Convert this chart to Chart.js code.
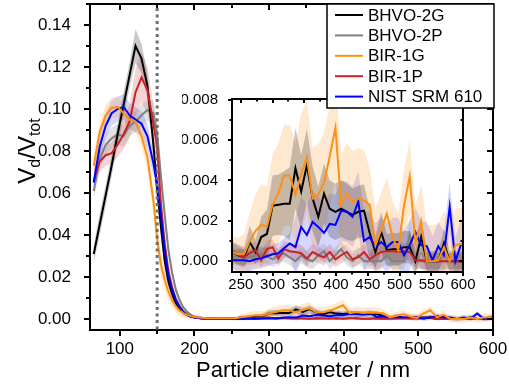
<!DOCTYPE html>
<html>
<head>
<meta charset="utf-8">
<script src="https://cdn.jsdelivr.net/npm/chart.js@4"></script>
<style>
  body { margin: 0; background: #fff; }
  #wrap { position: relative; width: 509px; height: 387px; }
  #wrap canvas { position: absolute; left: 0; top: 0; }
</style>
</head>
<body>
<div id="wrap">
  <canvas id="main" width="509" height="387"></canvas>
  <canvas id="inset" width="509" height="387"></canvas>
</div>
<script>
/* global Chart */

// particle diameters (nm)
const diameters = [65, 73, 81, 89, 97, 105, 113, 121, 129, 137, 145,
  150, 155, 160, 165, 170, 175, 180, 185, 190, 195, 200, 210, 219, 228,
  237, 246, 255, 264, 273, 282, 291, 300, 309, 318, 327, 336, 345, 354, 363,
  372, 381, 390, 399, 408, 417, 426, 435, 444, 453, 462, 471, 480, 489, 498,
  507, 516, 525, 534, 543, 552, 561, 570, 579, 588, 597, 606];

const bhvo2g = [0.031, 0.045, 0.059, 0.073, 0.088, 0.102, 0.116, 0.130, 0.124, 0.111, 0.083,
  0.062, 0.044, 0.028, 0.018, 0.012, 0.0075, 0.005, 0.003, 0.002, 0.0012, 0.0008, 0.0004, 0.0003, 0.0003,
  0.00045, 0.0003, 0.0002, 0.00095, 0.00045, 0.0012, 0.00135, 0.00275, 0.0028, 0.00285, 0.00285, 0.0046, 0.00345, 0.00475, 0.0031,
  0.0022, 0.00335, 0.0026, 0.00245, 0.0026, 0.00245, 0.0023, 0.00245, 0.0025, 0.0014, 0.00045, 0.00145, 0.00055, 0.0006, 0.0006,
  0.0007, 0.0007, 0, 0.0012, 0, 0, 0, 0.0009, 0, 0, 0, 0];
const bhvo2gErr = [0.004, 0.005, 0.005, 0.005, 0.005, 0.006, 0.006, 0.008, 0.007, 0.006, 0.006,
  0.005, 0.005, 0.004, 0.003, 0.002, 0.0015, 0.001, 0.0008, 0.0006, 0.0005, 0.0004, 0.0003, 0.0003, 0.0003,
  0.0005, 0.0005, 0.0005, 0.0008, 0.0006, 0.001, 0.0012, 0.0015, 0.0015, 0.0016, 0.0018, 0.002, 0.0018, 0.0018, 0.0016,
  0.0015, 0.0015, 0.0014, 0.0014, 0.0014, 0.0014, 0.0013, 0.0013, 0.0013, 0.0012, 0.0008, 0.001, 0.0008, 0.0008, 0.0008,
  0.0008, 0.0008, 0.0006, 0.0008, 0.0005, 0.0005, 0.0005, 0.0007, 0.0005, 0.0005, 0.0005, 0.0005];

const bhvo2p = [0.061, 0.076, 0.083, 0.086, 0.088, 0.087, 0.092, 0.094, 0.097, 0.0995, 0.098,
  0.088, 0.068, 0.050, 0.033, 0.022, 0.014, 0.009, 0.0055, 0.0035, 0.002, 0.0012, 0.0006, 0.0004, 0.0003,
  0.0002, 0.00025, 0.0002, 0.0002, 0.0003, 0.00035, 0.00025, 0.0001, 0.0003, 0.00038, 0.0002, 0, 0.0003, 0.0001, 0,
  0.0003, 0.0005, 0, 0.0003, 0.0006, 0.0002, 0, 0.0003, 0, 0, 0, 0, 0.0003, 0, 0,
  0, 0.0013, 0, 0, 0, 0, 0, 0, 0, 0, 0, 0];
const bhvo2pErr = [0.004, 0.005, 0.005, 0.005, 0.005, 0.005, 0.005, 0.005, 0.005, 0.005, 0.006,
  0.006, 0.006, 0.005, 0.004, 0.003, 0.002, 0.0015, 0.001, 0.0008, 0.0006, 0.0005, 0.0004, 0.0003, 0.0003,
  0.0004, 0.0004, 0.0004, 0.0004, 0.0004, 0.0004, 0.0004, 0.0004, 0.0004, 0.0004, 0.0004, 0.0004, 0.0004, 0.0004, 0.0004,
  0.0004, 0.0004, 0.0004, 0.0004, 0.0004, 0.0004, 0.0004, 0.0004, 0.0004, 0.0004, 0.0004, 0.0004, 0.0004, 0.0004, 0.0004,
  0.0004, 0.0008, 0.0004, 0.0004, 0.0004, 0.0004, 0.0004, 0.0004, 0.0004, 0.0004, 0.0004, 0.0004];

const bir1g = [0.073, 0.089, 0.097, 0.1005, 0.101, 0.098, 0.095, 0.094, 0.087, 0.077, 0.056,
  0.038, 0.026, 0.019, 0.013, 0.009, 0.006, 0.004, 0.0028, 0.002, 0.0014, 0.001, 0.0006, 0.0004, 0.0004,
  0.00045, 0.00035, 0.00035, 0.001, 0.0015, 0.0018, 0.0017, 0.0028, 0.00335, 0.00425, 0.00425, 0.0033, 0.0043, 0.00515, 0.0031,
  0.0033, 0.0039, 0.0052, 0.0066, 0.0028, 0.00335, 0.00295, 0.0031, 0.003, 0.0028, 0.0008, 0.00155, 0.00235, 0.0012, 0.00055,
  0.00275, 0.0042, 0.0009, 0.002, 0, 0, 0.00005, 0.0007, 0, 0.0008, 0.00085, 0.00085];
const bir1gErr = [0.005, 0.005, 0.005, 0.005, 0.005, 0.005, 0.005, 0.005, 0.005, 0.006, 0.006,
  0.006, 0.006, 0.005, 0.004, 0.003, 0.003, 0.0025, 0.002, 0.0015, 0.0012, 0.001, 0.0008, 0.0008, 0.0008,
  0.0008, 0.0008, 0.001, 0.0014, 0.0018, 0.002, 0.002, 0.0025, 0.0025, 0.0025, 0.0025, 0.0025, 0.003, 0.0028, 0.0025,
  0.0025, 0.0025, 0.0025, 0.0025, 0.0025, 0.0025, 0.0025, 0.0025, 0.0025, 0.0018, 0.0018, 0.0018, 0.0018, 0.0018, 0.0018,
  0.0018, 0.0018, 0.0018, 0.0018, 0.0018, 0.0018, 0.0018, 0.0018, 0.0018, 0.0018, 0.0018, 0.0018];

const bir1p = [0.066, 0.075, 0.078, 0.079, 0.083, 0.088, 0.094, 0.108, 0.115, 0.109, 0.093,
  0.082, 0.055, 0.036, 0.023, 0.015, 0.0095, 0.006, 0.0035, 0.002, 0.0012, 0.0007, 0.0003, 0.0003, 0.0004,
  0.0005, 0.0003, 0.0002, 0.0004, 0.00055, 0.00005, 0.0006, 0.0007, 0.00013, 0.0006, 0.0005, 0.00046, 0.0004, 0.00013, 0.00046,
  0.0003, 0.0002, 0.00046, 0.0001, 0.0003, 0.00046, 0.0001, 0.0002, 0.00046, 0.0001, 0.0003, 0.00046, 0.0005, 0.0005, 0.00046,
  0.0005, 0.00046, 0.00005, 0.00005, 0, 0, 0, 0, 0, 0, 0, 0];
const bir1pErr = [0.005, 0.005, 0.005, 0.005, 0.006, 0.007, 0.008, 0.011, 0.012, 0.011, 0.009,
  0.008, 0.006, 0.005, 0.004, 0.003, 0.002, 0.0015, 0.001, 0.0007, 0.0005, 0.0004, 0.0003, 0.0003, 0.0003,
  0.0004, 0.0004, 0.0004, 0.0004, 0.0004, 0.0004, 0.0004, 0.0004, 0.0004, 0.0004, 0.0004, 0.0004, 0.0004, 0.0004, 0.0004,
  0.0004, 0.0004, 0.0004, 0.0004, 0.0004, 0.0004, 0.0004, 0.0004, 0.0004, 0.0004, 0.0004, 0.0004, 0.0004, 0.0004, 0.0004,
  0.0004, 0.0004, 0.0004, 0.0004, 0.0004, 0.0004, 0.0004, 0.0004, 0.0004, 0.0004, 0.0004, 0.0004];

const nist610 = [0.065, 0.082, 0.092, 0.098, 0.100, 0.101, 0.097, 0.095, 0.093, 0.087, 0.074,
  0.064, 0.050, 0.033, 0.021, 0.014, 0.009, 0.006, 0.0035, 0.002, 0.0012, 0.0007, 0.0003, 0.0002, 0.0001,
  0.00005, 0.00005, 0.00005, 0, 0.0001, 0.00015, 0.00025, 0.00035, 0.0004, 0.00065, 0.00088, 0.0007, 0.0017, 0.0013, 0.00195,
  0.0017, 0.0014, 0.00185, 0.0018, 0.0025, 0.00245, 0.0022, 0.00295, 0.001, 0.0012, 0.0007, 0.00095, 0.0007, 0.00095, 0.00095,
  0.0003, 0.0008, 0.00145, 0.0008, 0.00075, 0.00005, 0.00075, 0.0003, 0.0027, 0, 0.00085, 0.0009];
const nist610Err = [0.005, 0.006, 0.006, 0.006, 0.006, 0.006, 0.006, 0.006, 0.006, 0.006, 0.006,
  0.006, 0.005, 0.004, 0.003, 0.002, 0.0015, 0.001, 0.0008, 0.0006, 0.0005, 0.0004, 0.0003, 0.0003, 0.0003,
  0.0005, 0.0005, 0.0005, 0.0005, 0.0005, 0.0005, 0.0005, 0.0005, 0.0005, 0.0005, 0.0005, 0.0015, 0.0015, 0.0015, 0.0015,
  0.0015, 0.0015, 0.0015, 0.0015, 0.0015, 0.0015, 0.0015, 0.0015, 0.0015, 0.0012, 0.0012, 0.0012, 0.0012, 0.0012, 0.0012,
  0.0012, 0.0012, 0.0012, 0.0012, 0.0012, 0.0012, 0.0012, 0.0012, 0.0012, 0.0012, 0.0012, 0.0012];

const xTicks = [100, 200, 300, 400, 500, 600];
const yTicks = [0, 0.02, 0.04, 0.06, 0.08, 0.10, 0.12, 0.14];
const insetXTicks = [250, 300, 350, 400, 450, 500, 550, 600];
const insetYTicks = [0, 0.002, 0.004, 0.006, 0.008];
const cutoff = 150; // dotted line

const FONT = "'Liberation Sans', Arial, sans-serif";

const series = [
  {label: 'BHVO-2G', values: bhvo2g, err: bhvo2gErr, color: '#000000', band: 'rgba(40,40,40,0.25)', z: 4},
  {label: 'BHVO-2P', values: bhvo2p, err: bhvo2pErr, color: '#808080', band: 'rgba(140,140,140,0.25)', z: 5},
  {label: 'BIR-1G', values: bir1g, err: bir1gErr, color: '#ff9010', band: 'rgba(255,150,40,0.22)', z: 1},
  {label: 'BIR-1P', values: bir1p, err: bir1pErr, color: '#cc2027', band: 'rgba(200,40,40,0.2)', z: 3},
  {label: 'NIST SRM 610', values: nist610, err: nist610Err, color: '#0000ff', band: 'rgba(50,50,255,0.2)', z: 2}
];

function buildDatasets() {
  const sets = [];
  series.forEach(function(s) {
    const pts = f => diameters.map((d, k) => ({x: d, y: f(k)}));
    sets.push({data: pts(k => s.values[k] + s.err[k]), borderWidth: 0, pointRadius: 0,
      fill: '+1', backgroundColor: s.band, order: 10});
    sets.push({data: pts(k => s.values[k] - s.err[k]), borderWidth: 0, pointRadius: 0,
      fill: false, order: 10});
    sets.push({data: pts(k => s.values[k]), borderColor: s.color, borderWidth: 2, pointRadius: 0,
      fill: false, order: s.z, tension: 0});
  });
  return sets;
}

function minors(vals, scale) {
  const step = vals[1] - vals[0];
  const out = [];
  for (let v = vals[0] - step / 2; v <= scale.max + 1e-9; v += step) {
    if (v >= scale.min - 1e-9) out.push(v);
  }
  return out;
}

// box round the plot, ticks outward on left/bottom, inward on top/right
const frame = {
  id: 'frame',
  afterDatasetsDraw(chart, args, o) {
    const {ctx, chartArea: a, scales: {x, y}} = chart;
    const xs = x.ticks.map(t => t.value);
    const ys = y.ticks.map(t => t.value);
    ctx.save();
    ctx.strokeStyle = '#000';
    ctx.lineWidth = o.width;
    ctx.beginPath();
    const marks = function(vals, len, scale, horiz) {
      vals.forEach(function(v) {
        const p = Math.round(scale.getPixelForValue(v));
        if (horiz) {
          ctx.moveTo(p, a.bottom); ctx.lineTo(p, a.bottom + len);
          ctx.moveTo(p, a.top); ctx.lineTo(p, a.top + len);
        } else {
          ctx.moveTo(a.left - len, p); ctx.lineTo(a.left, p);
          ctx.moveTo(a.right - len, p); ctx.lineTo(a.right, p);
        }
      });
    };
    marks(xs, o.major, x, true);
    marks(minors(xs, x), o.minor, x, true);
    marks(ys, o.major, y, false);
    marks(minors(ys, y), o.minor, y, false);
    ctx.stroke();
    ctx.strokeRect(a.left, a.top, a.right - a.left, a.bottom - a.top);
    ctx.restore();
  }
};

// dotted cutoff line and axis titles of the main plot
const extras = {
  id: 'extras',
  afterDatasetsDraw(chart) {
    const {ctx, chartArea: a, scales: {x}} = chart;
    const px = x.getPixelForValue(cutoff);
    ctx.save();
    ctx.strokeStyle = '#6e6e6e';
    ctx.lineWidth = 3;
    ctx.setLineDash([3, 3.5]);
    ctx.beginPath();
    ctx.moveTo(px, a.top + 4);
    ctx.lineTo(px, a.bottom);
    ctx.stroke();
    ctx.restore();
  },
  afterDraw(chart) {
    const ctx = chart.ctx;
    ctx.save();
    ctx.fillStyle = '#000';
    ctx.font = '22px ' + FONT;
    ctx.textAlign = 'center';
    ctx.textBaseline = 'alphabetic';
    ctx.fillText('Particle diameter / nm', 303, 377);
    // y title with subscripts, rotated
    ctx.translate(35, 151);
    ctx.rotate(-Math.PI / 2);
    const parts = [['V', 24, 0], ['d', 16, 5], ['/V', 24, 0], ['tot', 16, 5]];
    let w = 0;
    parts.forEach(function(p) { ctx.font = p[1] + 'px ' + FONT; w += ctx.measureText(p[0]).width; });
    let cx = -w / 2;
    ctx.textAlign = 'left';
    parts.forEach(function(p) {
      ctx.font = p[1] + 'px ' + FONT;
      ctx.fillText(p[0], cx, p[2]);
      cx += ctx.measureText(p[0]).width;
    });
    ctx.restore();
  }
};

const legendBox = {
  id: 'legendBox',
  afterDraw(chart) {
    const ctx = chart.ctx;
    ctx.save();
    ctx.fillStyle = '#fff';
    ctx.fillRect(327, 4, 167, 104);
    ctx.strokeStyle = '#000';
    ctx.lineWidth = 1.5;
    ctx.strokeRect(327, 4, 167, 104);
    ctx.font = '17px ' + FONT;
    ctx.textBaseline = 'middle';
    series.forEach(function(s, i) {
      const yy = 15 + i * 20.4;
      ctx.strokeStyle = s.color;
      ctx.lineWidth = 2;
      ctx.beginPath();
      ctx.moveTo(335, yy);
      ctx.lineTo(363, yy);
      ctx.stroke();
      ctx.fillStyle = '#000';
      ctx.fillText(s.label, 368, yy + 1);
    });
    ctx.restore();
  }
};

function axis(min, max, tickVals, fmt, size, fixed, pad) {
  return {
    type: 'linear', min: min, max: max,
    afterBuildTicks: s => { s.ticks = tickVals.map(v => ({value: v})); },
    afterFit: s => {
      if (s.isHorizontal()) s.height = fixed; else s.width = fixed;
      s.paddingTop = 0; s.paddingBottom = 0; s.paddingLeft = 0; s.paddingRight = 0;
    },
    grid: {display: false},
    border: {display: false},
    ticks: {color: '#000', font: {family: FONT, size: size}, padding: pad,
      autoSkip: false, maxRotation: 0, callback: fmt}
  };
}

new Chart(document.getElementById('main'), {
  type: 'line',
  data: {datasets: buildDatasets()},
  plugins: [frame, extras],
  options: {
    responsive: false,
    animation: false,
    layout: {padding: {left: 0, right: 16, top: 4, bottom: 0}},
    plugins: {
      legend: {display: false},
      tooltip: {enabled: false},
      frame: {width: 2, major: 6, minor: 4}
    },
    scales: {
      x: axis(60, 600, xTicks, v => String(v), 17, 57, 1),
      y: axis(-0.0052, 0.15, yTicks, v => v.toFixed(2), 17, 90, 11)
    }
  }
});

new Chart(document.getElementById('inset'), {
  type: 'line',
  data: {datasets: buildDatasets()},
  plugins: [frame, legendBox],
  options: {
    responsive: false,
    animation: false,
    layout: {padding: {left: 182, right: 46, top: 99, bottom: 85}},
    plugins: {
      legend: {display: false},
      tooltip: {enabled: false},
      frame: {width: 2, major: 4, minor: 2.5}
    },
    scales: {
      x: axis(236, 600, insetXTicks, v => String(v), 15, 30, -4),
      y: axis(-0.00053, 0.00803, insetYTicks, v => v.toFixed(3), 15, 50, 6)
    }
  }
});
</script>
</body>
</html>
